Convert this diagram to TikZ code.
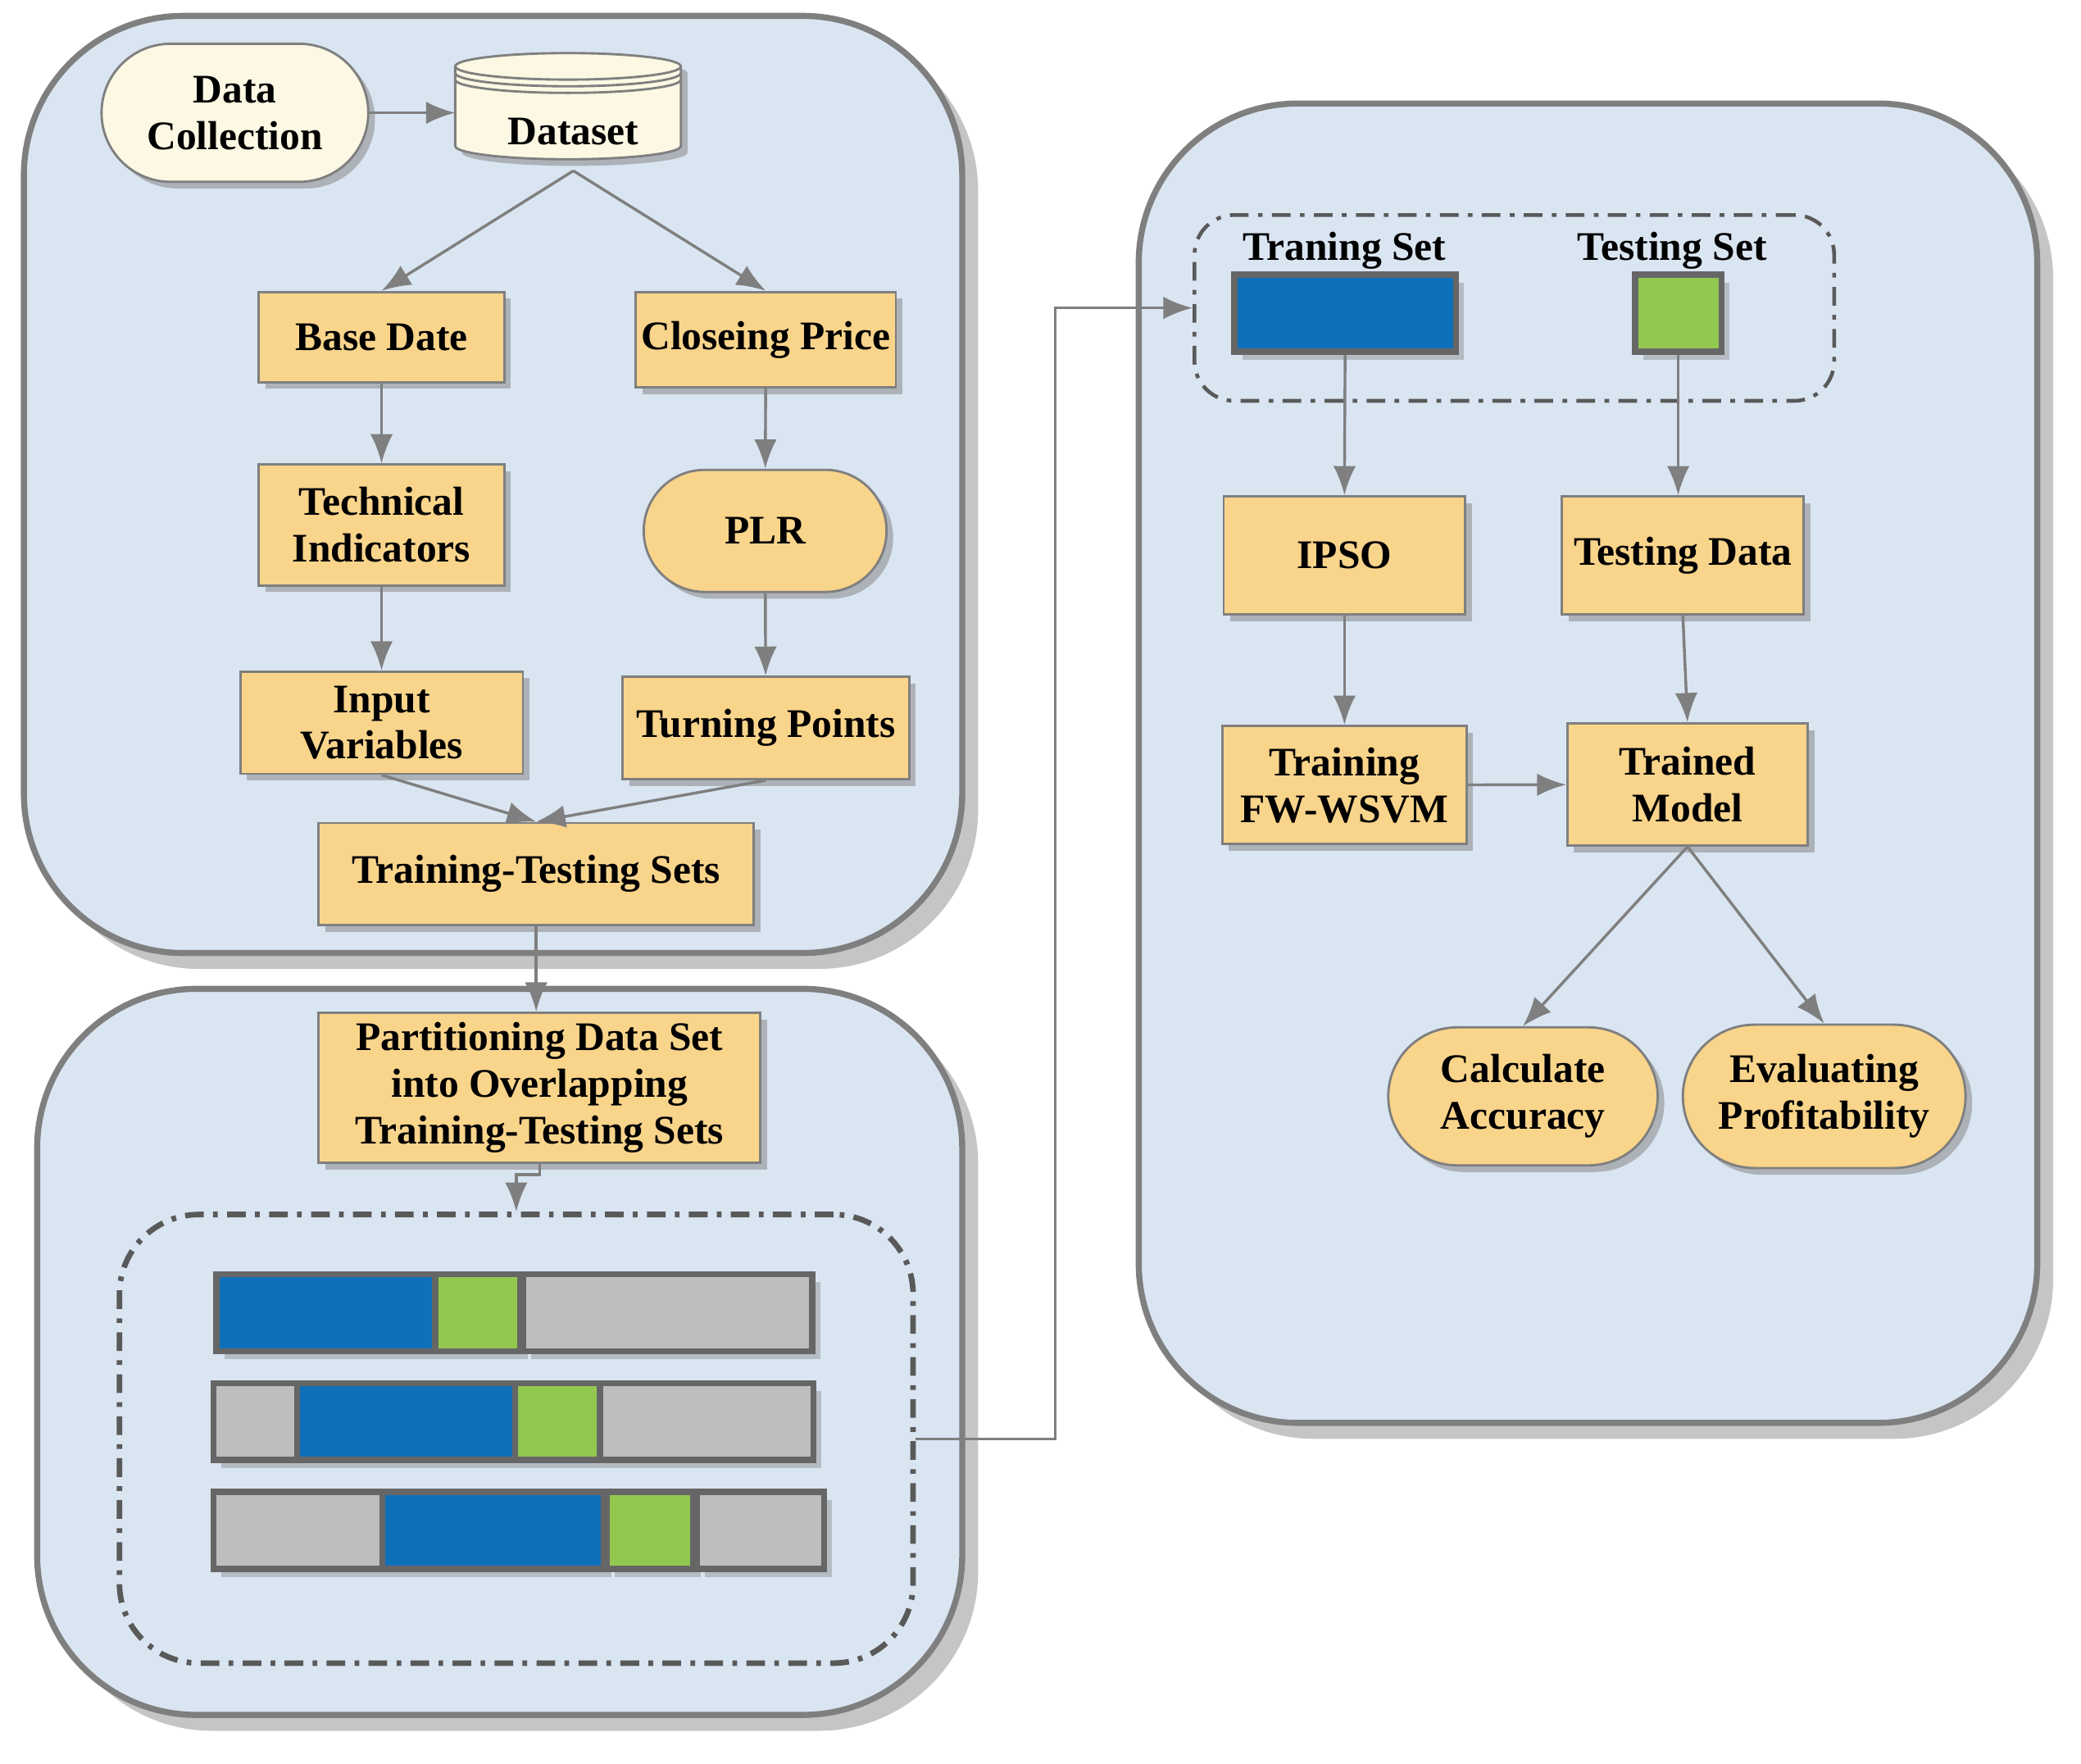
\documentclass[tikz,border=0pt]{standalone}
\usepackage{fontspec}
\setmainfont{Liberation Serif}
\usetikzlibrary{arrows.meta,shadows,shapes.misc}
\definecolor{panelblue}{HTML}{DAE5F2}
\definecolor{boxorange}{HTML}{F9D48B}
\definecolor{cream}{HTML}{FCF8E4}
\definecolor{barblue}{HTML}{0E70B9}
\definecolor{bargreen}{HTML}{92C84F}
\definecolor{bargray}{HTML}{BEBEBE}
\definecolor{edgegray}{HTML}{7F7F7F}

\begin{document}
\begin{tikzpicture}[
    panel/.style={draw=edgegray, line width=1.3pt, fill=panelblue, rounded corners=1.2cm,
      drop shadow={shadow xshift=1.2mm, shadow yshift=-1.2mm, fill=black!45, opacity=0.5}},
    box/.style={draw=edgegray, line width=0.5pt, fill=boxorange, align=center, inner sep=0pt,
      font=\fontsize{8.7}{10}\selectfont\bfseries,
      drop shadow={shadow xshift=0.5mm, shadow yshift=-0.5mm, fill=black!50, opacity=0.5}},
    pill/.style={box, rounded rectangle},
    bar/.style={draw=black!60, line width=1.3pt,
      drop shadow={shadow xshift=0.6mm, shadow yshift=-0.6mm, fill=black!50, opacity=0.4}},
    lbl/.style={font=\fontsize{8.7}{10}\selectfont\bfseries, inner sep=0pt},
    link/.style={draw=edgegray, line width=0.6pt, -{Latex[length=2.2mm,width=1.7mm]}},
    dashdot/.style={draw=black!65, rounded corners=0.6cm, dash pattern=on 4pt off 2pt on 1pt off 2pt}
  ]
  \useasboundingbox (0,0) rectangle (15.68,-13.29);

  \draw[panel] (0.18,-0.12) rectangle (7.25,-7.18);
  \draw[panel] (0.28,-7.45) rectangle (7.25,-12.92);
  \draw[panel] (8.58,-0.78) rectangle (15.35,-10.72);

  \node[pill, fill=cream, minimum width=2.01cm, minimum height=1.04cm] (datacol) at (1.77,-0.85) {Data\\Collection};
  \fill[cream, drop shadow={shadow xshift=0.5mm, shadow yshift=-0.5mm, fill=black!50, opacity=0.5}]
    (3.43,-0.50) -- (3.43,-1.10) arc[start angle=180, end angle=360, x radius=0.85, y radius=0.10]
    -- (5.13,-0.50) arc[start angle=0, end angle=180, x radius=0.85, y radius=0.10] -- cycle;
  \draw[edgegray, line width=0.5pt] (3.43,-0.50) -- (3.43,-1.10) arc[start angle=180, end angle=360, x radius=0.85, y radius=0.10]
    -- (5.13,-0.50);
  \draw[edgegray, line width=0.5pt] (4.28,-0.50) ellipse[x radius=0.85, y radius=0.10];
  \draw[edgegray, line width=0.5pt] (3.43,-0.55) arc[start angle=180, end angle=360, x radius=0.85, y radius=0.10];
  \draw[edgegray, line width=0.5pt] (3.43,-0.60) arc[start angle=180, end angle=360, x radius=0.85, y radius=0.10];
  \node[lbl, minimum height=0.58cm] (dataset) at (4.32,-0.99) {Dataset};
  \coordinate (dsleft) at (3.43,-0.85);

  \node[box, minimum width=1.85cm, minimum height=0.68cm] (basedate) at (2.875,-2.54) {Base Date};
  \node[box, minimum width=1.96cm, minimum height=0.72cm] (closeprice) at (5.77,-2.56) {Closeing Price};
  \node[box, minimum width=1.85cm, minimum height=0.91cm] (techind) at (2.875,-3.955) {Technical\\Indicators};
  \node[pill, minimum width=1.83cm, minimum height=0.92cm] (plr) at (5.765,-4.00) {PLR};
  \node[box, minimum width=2.13cm, minimum height=0.77cm] (inputvar) at (2.875,-5.445) {Input\\Variables};
  \node[box, minimum width=2.16cm, minimum height=0.77cm] (turnpts) at (5.77,-5.485) {Turning Points};
  \node[box, minimum width=3.28cm, minimum height=0.77cm] (ttsets) at (4.04,-6.585) {Training-Testing Sets};

  \node[box, minimum width=3.33cm, minimum height=1.13cm] (partition) at (4.065,-8.195) {Partitioning Data Set\\into Overlapping\\Training-Testing Sets};
  \node[dashdot, line width=1.2pt, minimum width=5.98cm, minimum height=3.38cm] (parts) at (3.89,-10.84) {};

  \draw[bar, fill=barblue] (1.63,-9.60) rectangle (3.28,-10.18);
  \draw[bar, fill=bargreen] (3.28,-9.60) rectangle (3.92,-10.18);
  \draw[bar, fill=bargray] (3.94,-9.60) rectangle (6.12,-10.18);
  \draw[bar, fill=bargray] (1.61,-10.42) rectangle (2.24,-11.00);
  \draw[bar, fill=barblue] (2.24,-10.42) rectangle (3.88,-11.00);
  \draw[bar, fill=bargreen] (3.88,-10.42) rectangle (4.52,-11.00);
  \draw[bar, fill=bargray] (4.52,-10.42) rectangle (6.13,-11.00);
  \draw[bar, fill=bargray] (1.61,-11.24) rectangle (2.88,-11.82);
  \draw[bar, fill=barblue] (2.88,-11.24) rectangle (4.55,-11.82);
  \draw[bar, fill=bargreen] (4.57,-11.24) rectangle (5.22,-11.82);
  \draw[bar, fill=bargray] (5.25,-11.24) rectangle (6.21,-11.82);

  \node[dashdot, rounded corners=0.3cm, line width=0.8pt, minimum width=4.82cm, minimum height=1.40cm] (sets) at (11.41,-2.32) {};
  \node[lbl] (trainlbl) at (10.13,-1.89) {Traning Set};
  \node[lbl] (testlbl) at (12.60,-1.89) {Testing Set};
  \node[bar, fill=barblue, minimum width=1.67cm, minimum height=0.58cm] (trainset) at (10.135,-2.36) {};
  \node[bar, fill=bargreen, minimum width=0.65cm, minimum height=0.58cm] (testset) at (12.645,-2.36) {};

  \node[box, minimum width=1.82cm, minimum height=0.89cm] (ipso) at (10.13,-4.185) {IPSO};
  \node[box, minimum width=1.82cm, minimum height=0.89cm] (testdata) at (12.68,-4.185) {Testing Data};
  \node[box, minimum width=1.84cm, minimum height=0.89cm] (trainfw) at (10.13,-5.915) {Training\\FW-WSVM};
  \node[box, minimum width=1.81cm, minimum height=0.92cm] (trained) at (12.715,-5.91) {Trained\\Model};
  \node[pill, minimum width=2.03cm, minimum height=1.04cm] (calcacc) at (11.475,-8.26) {Calculate\\Accuracy};
  \node[pill, minimum width=2.13cm, minimum height=1.08cm] (evalprof) at (13.745,-8.26) {Evaluating\\Profitability};

  \draw[link] (datacol.east) -- (dsleft);
  \draw[link] (dataset.south) -- (basedate.north);
  \draw[link] (dataset.south) -- (closeprice.north);
  \draw[link] (basedate) -- (techind);
  \draw[link] (techind) -- (inputvar);
  \draw[link] (closeprice) -- (plr);
  \draw[link] (plr) -- (turnpts);
  \draw[link] (inputvar.south) -- (ttsets.north);
  \draw[link] (turnpts.south) -- (ttsets.north);
  \draw[link] (ttsets.south) -- (ttsets.south |- partition.north);
  \draw[link] (partition.south) -- ++(0,-0.08) -| (parts.north);
  \draw[link] (parts.east) -- ++(1.05,0) |- (sets.west);
  \draw[link] (trainset.south) -- (ipso.north);
  \draw[link] (testset.south) -- (testset.south |- testdata.north);
  \draw[link] (ipso) -- (trainfw);
  \draw[link] (testdata.south) -- (trained.north);
  \draw[link] (trainfw) -- (trained);
  \draw[link] (trained.south) -- (calcacc.north);
  \draw[link] (trained.south) -- (evalprof.north);
\end{tikzpicture}
\end{document}
